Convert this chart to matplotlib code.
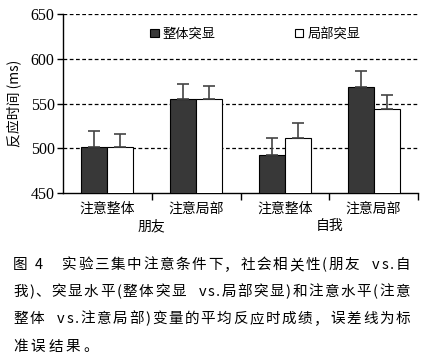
import matplotlib
matplotlib.use("Agg")
import matplotlib.pyplot as plt
import numpy as np

categories = ["注意整体", "注意局部", "注意整体", "注意局部"]
groups = ["朋友", "自我"]
series_names = ["整体突显", "局部突显"]
global_means = [502, 555, 493, 569]
local_means = [501, 555, 511, 544]
global_se = [17, 17, 18, 17]
local_se = [15, 15, 17, 16]
yticks = [450, 500, 550, 600, 650]
caption_lines = [
    "图 4   实验三集中注意条件下，社会相关性(朋友  vs.自",
    "我)、突显水平(整体突显  vs.局部突显)和注意水平(注意",
    "整体  vs.注意局部)变量的平均反应时成绩，误差线为标",
    "准误结果。",
]

CJK = ['Noto Sans CJK SC', 'DejaVu Sans']
SERIF = ['Liberation Serif', 'DejaVu Serif']
plt.rcParams['font.family'] = CJK

W, H = 429, 358
fig = plt.figure(figsize=(W / 100, H / 100), dpi=100)
ax = fig.add_axes([63 / W, 1 - 193 / H, 355 / W, (193 - 14.3) / H])

x = np.arange(len(categories))
bw = 0.293
ax.bar(x - bw / 2, global_means, bw, color='#383838', edgecolor='black', linewidth=0.8, zorder=3,
       label=series_names[0])
ax.bar(x + bw / 2, local_means, bw, color='white', edgecolor='black', linewidth=0.8, zorder=3,
       label=series_names[1])
ax.errorbar(x - bw / 2, global_means, yerr=[np.zeros(4), global_se], fmt='none', ecolor='#444444',
            elinewidth=1.2, capsize=4.5, capthick=1.2, zorder=4)
ax.errorbar(x + bw / 2, local_means, yerr=[np.zeros(4), local_se], fmt='none', ecolor='#444444',
            elinewidth=1.2, capsize=4.5, capthick=1.2, zorder=4)

ax.set_xlim(-0.5, 3.5)
ax.set_ylim(450, 650)
ax.set_yticks(yticks)
ax.set_yticklabels([str(v) for v in yticks], family=SERIF, fontsize=11.5)
for v in yticks[1:]:
    ax.axhline(v, color='black', linestyle=(0, (3, 2)), linewidth=0.9, zorder=1)

ax.set_xticks(x)
ax.set_xticklabels(categories, fontsize=10)
ax.tick_params(axis='x', length=0, pad=6)
ax.set_xticks([0.5, 1.5, 2.5, 3.5], minor=True)
ax.tick_params(axis='x', which='minor', length=5, width=1, direction='out')
ax.tick_params(axis='y', length=4, width=1, direction='out', pad=2)

for s in ['top', 'right']:
    ax.spines[s].set_visible(False)
for s in ['left', 'bottom']:
    ax.spines[s].set_linewidth(1.0)

ax.text(0.5, -0.185, groups[0], transform=ax.get_xaxis_transform(), ha='center', va='center', fontsize=10)
ax.text(2.5, -0.185, groups[1], transform=ax.get_xaxis_transform(), ha='center', va='center', fontsize=10)

ax.set_ylabel("反应时间 (ms)", fontsize=10)
ax.yaxis.set_label_coords(-0.118, 0.5)

leg = ax.legend(loc='upper left', bbox_to_anchor=(0.245, 0.925), ncol=2, frameon=False, fontsize=9.5,
                handlelength=0.65, handleheight=0.65, columnspacing=6.0, handletextpad=0.3,
                borderaxespad=0, borderpad=0)

# caption with justified characters
renderer = fig.canvas.get_renderer()
x0, x1 = 13, 410
ys = [265, 292, 319, 347]
fs = 10.5
for i, line in enumerate(caption_lines):
    chars = list(line)
    widths = []
    for c in chars:
        t = fig.text(0, 0, c if c != ' ' else 'a', fontsize=fs, family=CJK)
        bb = t.get_window_extent(renderer)
        w = bb.width if c != ' ' else bb.width * 0.5
        widths.append(w)
        t.remove()
    total = sum(widths)
    if i < len(caption_lines) - 1:
        gap = (x1 - x0 - total) / (len(chars) - 1)
    else:
        gap = 3.0
    pos = x0
    for c, w in zip(chars, widths):
        if c != ' ':
            fig.text(pos / W, 1 - ys[i] / H, c, fontsize=fs, family=CJK, ha='left', va='center')
        pos += w + gap

fig.savefig("out.png", dpi=100)
